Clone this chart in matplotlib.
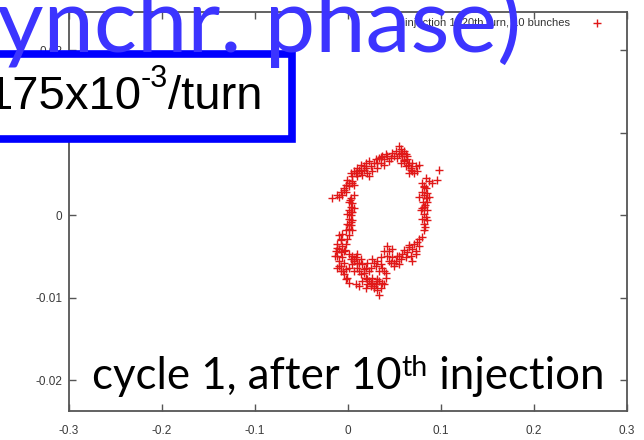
import matplotlib
matplotlib.use("Agg")
import matplotlib.pyplot as plt
from matplotlib.patches import Rectangle

# particle coordinates (phase, dp/p) grouped along the ring
upper_left = [(-0.0168, 0.00204), (-0.0115, 0.00245), (-0.0079, 0.00286), (-0.0097, 0.00225),
              (-0.0043, 0.00327), (-0.0025, 0.00368), (0.0011, 0.00389), (-0.0007, 0.00429),
              (0.0047, 0.00470), (0.0029, 0.00511), (0.0064, 0.00532), (0.0100, 0.00573),
              (0.0136, 0.00613), (0.0118, 0.00552), (0.0172, 0.00593), (0.0190, 0.00634),
              (0.0226, 0.00654), (0.0243, 0.00593), (0.0279, 0.00634), (0.0297, 0.00675),
              (0.0333, 0.00695), (0.0351, 0.00634), (0.0387, 0.00675), (0.0405, 0.00736),
              (0.0422, 0.00716), (0.0458, 0.00695), (0.0476, 0.00757), (0.0440, 0.00654),
              (0.0387, 0.00613), (0.0315, 0.00573), (0.0261, 0.00532), (0.0208, 0.00511),
              (0.0154, 0.00491), (0.0100, 0.00470), (0.0047, 0.00409), (0.0011, 0.00348),
              (-0.0025, 0.00286), (-0.0061, 0.00245), (0.0064, 0.00368), (0.0082, 0.00511),
              (0.0136, 0.00532), (0.0190, 0.00573), (0.0369, 0.00716), (0.0494, 0.00716),
              (0.0097, 0.00512), (0.0172, 0.00549), (0.0312, 0.00634), (-0.0043, 0.00305),
              (0.0043, 0.00390), (0.0355, 0.00707), (0.0226, 0.00476)]
top_cluster = [(0.0548, 0.00838), (0.0566, 0.00798), (0.0602, 0.00777), (0.0548, 0.00736),
               (0.0584, 0.00716), (0.0619, 0.00736), (0.0637, 0.00675), (0.0655, 0.00634),
               (0.0602, 0.00654), (0.0673, 0.00573), (0.0691, 0.00532), (0.0709, 0.00511),
               (0.0727, 0.00593), (0.0763, 0.00613), (0.0745, 0.00532), (0.0655, 0.00511),
               (0.0619, 0.00593), (0.0566, 0.00634), (0.0584, 0.00757), (0.0637, 0.00716),
               (0.0691, 0.00634), (0.0512, 0.00777), (0.0530, 0.00695), (0.0602, 0.00671),
               (0.0677, 0.00549), (0.0570, 0.00756), (0.0645, 0.00610)]
outliers = [(0.0977, 0.00552), (0.0960, 0.00429), (0.0906, 0.00389), (0.0834, 0.00450),
            (0.0870, 0.00409)]
right_side = [(0.0798, 0.00389), (0.0816, 0.00348), (0.0834, 0.00327), (0.0798, 0.00286),
              (0.0852, 0.00266), (0.0816, 0.00245), (0.0834, 0.00204), (0.0805, 0.00164),
              (0.0852, 0.00164), (0.0827, 0.00123), (0.0798, 0.00082), (0.0845, 0.00061),
              (0.0816, 0.00020), (0.0834, -0.00020), (0.0798, -0.00041), (0.0852, -0.00061),
              (0.0816, -0.00102), (0.0781, 0.00061), (0.0870, 0.00225), (0.0763, 0.00225),
              (0.0827, -0.00143), (0.0817, 0.00341), (0.0817, 0.00098)]
lower_right = [(0.0816, -0.00184), (0.0798, -0.00266), (0.0763, -0.00286), (0.0745, -0.00327),
               (0.0709, -0.00348), (0.0691, -0.00409), (0.0727, -0.00429), (0.0655, -0.00389),
               (0.0637, -0.00450), (0.0673, -0.00491), (0.0619, -0.00511), (0.0584, -0.00470),
               (0.0566, -0.00532), (0.0530, -0.00491), (0.0512, -0.00552), (0.0476, -0.00511),
               (0.0458, -0.00573), (0.0494, -0.00613), (0.0422, -0.00491), (0.0440, -0.00429),
               (0.0548, -0.00593), (0.0691, -0.00552), (0.0727, -0.00470), (0.0763, -0.00368),
               (0.0387, -0.00671), (0.0441, -0.00549), (0.0548, -0.00488), (0.0495, -0.00573),
               (0.0602, -0.00427), (0.0656, -0.00366)]
inner = [(0.0422, -0.00368), (0.0476, -0.00409), (0.0387, -0.00429), (0.0351, -0.00511),
         (0.0315, -0.00552), (0.0279, -0.00573), (0.0297, -0.00613), (0.0243, -0.00634),
         (0.0369, -0.00634), (0.0333, -0.00675), (0.0405, -0.00695), (0.0351, -0.00593)]
bottom = [(0.0190, -0.00757), (0.0226, -0.00798), (0.0261, -0.00818), (0.0297, -0.00838),
          (0.0333, -0.00798), (0.0243, -0.00859), (0.0279, -0.00879), (0.0315, -0.00777),
          (0.0369, -0.00818), (0.0351, -0.00879), (0.0208, -0.00838), (0.0261, -0.00757),
          (0.0315, -0.00900), (0.0333, -0.00961), (0.0387, -0.00838), (0.0405, -0.00757),
          (0.0154, -0.00798), (0.0118, -0.00859), (0.0082, -0.00838), (0.0190, -0.00879),
          (0.0280, -0.00854), (0.0247, -0.00817), (0.0312, -0.00793), (0.0204, -0.00768)]
left_upper = [(0.0011, 0.00164), (0.0047, 0.00143), (0.0029, 0.00102), (0.0011, 0.00061),
              (0.0047, 0.00041), (0.0029, 0.0), (0.0011, -0.00041), (0.0047, -0.00061),
              (-0.0007, -0.00102), (0.0029, -0.00123), (0.0011, -0.00164), (0.0047, -0.00184),
              (-0.0007, 0.00020), (0.0064, 0.00082), (0.0029, 0.00204), (0.0064, 0.00245),
              (0.0022, 0.00183), (0.0032, 0.00037), (0.0011, -0.00244), (0.0011, -0.00122),
              (0.0032, -0.00085)]
left_lower = [(-0.0097, -0.00245), (-0.0079, -0.00286), (-0.0115, -0.00348), (-0.0061, -0.00368),
              (-0.0097, -0.00409), (-0.0132, -0.00429), (-0.0079, -0.00450), (-0.0115, -0.00491),
              (-0.0061, -0.00511), (-0.0097, -0.00552), (-0.0043, -0.00573), (-0.0079, -0.00613),
              (-0.0115, -0.00634), (-0.0025, -0.00654), (-0.0079, -0.00675), (-0.0043, -0.00716),
              (-0.0007, -0.00757), (0.0011, -0.00470), (0.0047, -0.00491), (0.0082, -0.00511),
              (0.0064, -0.00552), (0.0029, -0.00532), (0.0100, -0.00470), (0.0118, -0.00573),
              (0.0047, -0.00593), (0.0011, -0.00634), (0.0136, -0.00532), (0.0154, -0.00593),
              (0.0100, -0.00634), (0.0064, -0.00675), (0.0190, -0.00634), (0.0172, -0.00695),
              (0.0136, -0.00716), (0.0226, -0.00675), (0.0208, -0.00573), (0.0261, -0.00532),
              (-0.0025, -0.00348), (-0.0043, -0.00429), (-0.0007, -0.00286), (-0.0061, -0.00225),
              (-0.0025, -0.00184), (-0.0025, -0.00777), (0.0011, -0.00818), (-0.0118, -0.00402),
              (-0.0075, -0.00305), (0.0065, -0.00524), (0.0097, -0.00573), (0.0172, -0.00646),
              (-0.0097, -0.00610), (-0.0054, -0.00671), (-0.0140, -0.00488), (-0.0032, -0.00427),
              (0.0118, -0.00671)]

x_ticks = [-0.3, -0.2, -0.1, 0, 0.1, 0.2, 0.3]
x_labels = ["-0.3", "-0.2", "-0.1", "0", "0.1", "0.2", "0.3"]
y_ticks = [-0.02, -0.01, 0, 0.01, 0.02]
y_labels = ["-0.02", "-0.01", "0", "0.01", "0.02"]

legend_label = "injection 1, 20th turn, 10 bunches"
title_text = "ynchr. phase)"
rate_parts = ("175x10", "-3", "/turn")
cycle_parts = ("cycle 1, after 10", "th", " injection")

W, H = 644, 440
fig = plt.figure(figsize=(W / 100, H / 100), dpi=100)
ax = fig.add_axes([69 / W, 1 - 411 / H, 558 / W, 399 / H])

points = (upper_left + top_cluster + outliers + right_side + lower_right + inner + bottom
          + left_upper + left_lower)
xs = [p[0] for p in points]
ys = [p[1] for p in points]
ax.scatter(xs, ys, marker="+", s=34, linewidths=1.0, color="#e01818", label=legend_label, zorder=3)

ax.set_xlim(-0.3, 0.3)
ax.set_ylim(-0.0237, 0.0246)
ax.set_xticks(x_ticks)
ax.set_xticklabels(x_labels)
ax.set_yticks(y_ticks)
ax.set_yticklabels(y_labels)
ax.tick_params(direction="in", length=5, width=1, colors="#555555", labelcolor="#3a3a3a",
               labelsize=8.5, top=True, right=True)
ax.tick_params(axis="x", pad=10)
ax.tick_params(axis="y", pad=5)
for lab in ax.get_xticklabels() + ax.get_yticklabels():
    lab.set_fontfamily("Liberation Sans")
for sp in ax.spines.values():
    sp.set_color("#555555")
    sp.set_linewidth(1.3)

leg = ax.legend(loc="upper right", bbox_to_anchor=(0.974, 0.997), borderaxespad=0,
                frameon=False, markerfirst=False, handletextpad=1.45,
                prop={"family": "Liberation Sans", "size": 8})
for t in leg.get_texts():
    t.set_color("#333333")

renderer = fig.canvas.get_renderer()


def chain_text(x_px, base_px, parts, sizes, raises, **kw):
    # place text pieces one after another, superscripts raised above the baseline
    x = x_px
    for s, size, dy in zip(parts, sizes, raises):
        t = fig.text(x / W, 1 - (base_px - dy) / H, s, fontsize=size, va="baseline", ha="left", **kw)
        x = t.get_window_extent(renderer).x1


# boxed rate annotation
fig.add_artist(Rectangle((-20 / W, 1 - 139 / H), 312 / W, 85 / H, transform=fig.transFigure,
                         facecolor="white", edgecolor="#0000ff", linewidth=5.5, zorder=5))
chain_text(-14, 109, rate_parts, (34, 22, 34), (0, 22, 0),
           family="Liberation Sans", color="black", zorder=6)

fig.text(-3 / W, 1 - 52 / H, title_text, family="Lato", fontsize=65, color="#3c34ff",
         va="baseline", ha="left", zorder=7)

chain_text(92, 389, cycle_parts, (31.5, 20.5, 31.5), (0, 13, 0),
           family="Lato", color="black", zorder=6)

fig.savefig("out.png", dpi=100)
